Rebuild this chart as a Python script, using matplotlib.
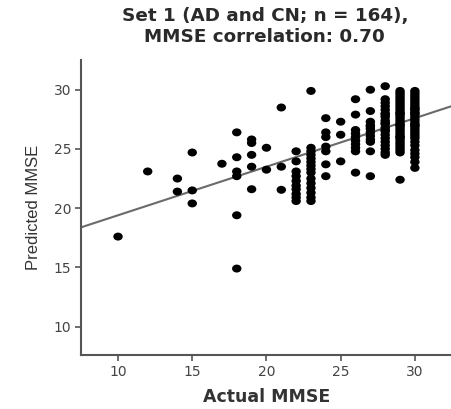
import matplotlib
matplotlib.use("Agg")
import matplotlib.pyplot as plt
from matplotlib.markers import MarkerStyle
from matplotlib.transforms import Affine2D

plt.rcParams['font.family'] = ['DejaVu Sans']

# actual MMSE (x) and predicted MMSE (y), one list per column
actual_scores = [10, 12, 14, 15, 17, 18, 19, 20, 21, 22, 23, 24, 25, 26, 27, 28, 29, 30]
predicted_by_score = {
    10: [17.6],
    12: [23.1],
    14: [22.5, 21.4],
    15: [24.7, 21.5, 20.4],
    17: [23.75],
    18: [26.4, 24.3, 23.1, 22.7, 19.4, 14.9],
    19: [25.8, 25.5, 24.5, 23.5, 21.6],
    20: [25.1, 23.25],
    21: [28.5, 23.5, 21.55],
    22: [24.8, 23.95, 23.1, 22.7, 22.3, 21.9, 21.6, 21.2, 20.9, 20.6],
    23: [29.9, 25.1, 24.8, 24.5, 24.2, 23.9, 23.6, 23.3, 23.0, 22.5,
         22.1, 21.7, 21.3, 20.9, 20.6],
    24: [27.6, 26.4, 26.0, 25.2, 24.8, 23.7, 22.7],
    25: [27.3, 26.2, 23.95],
    26: [29.2, 27.9, 26.6, 26.3, 26.0, 25.7, 25.4, 25.1, 24.8, 23.0],
    27: [30.0, 28.2, 27.3, 27.0, 26.9, 26.7, 26.4, 26.1, 25.8, 25.6, 24.8, 22.7],
    28: [30.3, 29.2, 28.9, 28.6, 28.3, 28.0, 27.9, 27.7, 27.4, 27.2, 27.1,
         26.8, 26.6, 26.5, 26.2, 25.9, 25.6, 25.3, 25.0, 24.7, 24.5],
    29: [29.9, 29.7, 29.5, 29.3, 29.1, 28.9, 28.7, 28.5, 28.3, 28.1, 28.0,
         27.9, 27.7, 27.5, 27.3, 27.1, 27.0, 26.9, 26.7, 26.5, 26.3, 26.1,
         26.0, 25.9, 25.7, 25.5, 25.3, 25.1, 24.9, 24.7, 22.4],
    30: [29.9, 29.7, 29.5, 29.3, 29.1, 28.9, 28.7, 28.5, 28.4, 28.3, 28.1,
         28.0, 27.9, 27.7, 27.5, 27.3, 27.1, 27.0, 26.9, 26.7, 26.5, 26.3,
         26.1, 25.9, 25.6, 25.3, 24.9, 24.6, 24.3, 23.9, 23.4],
}

# regression line as drawn in the figure
fit_slope = 0.41
fit_intercept = 15.3

ticks = [10, 15, 20, 25, 30]

xs = []
ys = []
for a in actual_scores:
    for p in predicted_by_score[a]:
        xs.append(a)
        ys.append(p)

fig = plt.figure(figsize=(4.52, 4.09), dpi=100)
ax = fig.add_axes([0.179, 0.132, 0.821, 0.721])

xlim = (7.5, 32.5)
ax.plot(xlim, [fit_intercept + fit_slope * v for v in xlim],
        color='#6a6a6a', lw=1.5, zorder=1)
# the source picture is a bit stretched sideways, so are its dots
dot = MarkerStyle('o', transform=Affine2D().scale(1.18, 1.0))
ax.scatter(xs, ys, s=33, marker=dot, color='black', edgecolors='none', zorder=2)

ax.set_xlim(*xlim)
ax.set_ylim(7.6, 32.5)
ax.set_xticks(ticks)
ax.set_yticks(ticks)

for side in ['top', 'right']:
    ax.spines[side].set_visible(False)
for side in ['left', 'bottom']:
    ax.spines[side].set_color('#555555')
    ax.spines[side].set_linewidth(1.5)
ax.tick_params(direction='out', length=4, width=1.2, color='#555555',
               labelcolor='#444444', labelsize=10, pad=3)

ax.set_xlabel('Actual MMSE', fontsize=12.5, fontweight='bold', color='#333333',
              labelpad=7)
ax.set_ylabel('Predicted MMSE', fontsize=12, color='#333333', labelpad=9,
              family=['Liberation Sans', 'DejaVu Sans'])

fig.text(0.586, 0.982, 'Set 1 (AD and CN; n = 164),\nMMSE correlation: 0.70',
         ha='center', va='top', fontsize=13.2, fontweight='bold',
         color='#2a2a2a', linespacing=1.2)

fig.savefig('out.png', dpi=100)
